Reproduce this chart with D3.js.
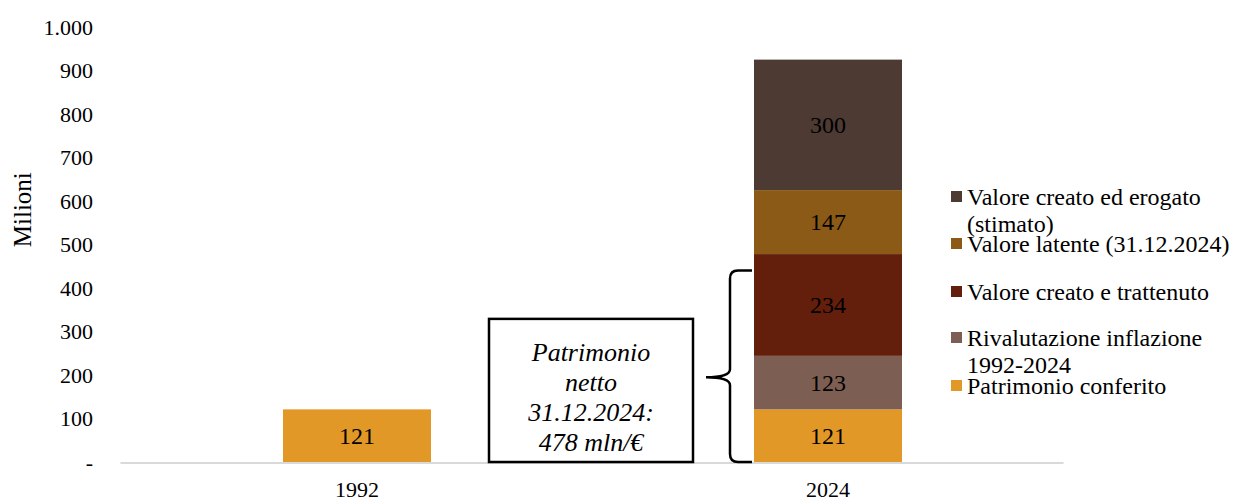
<!DOCTYPE html>
<html>
<head>
<meta charset="utf-8">
<script src="https://cdn.jsdelivr.net/npm/d3@7/dist/d3.min.js"></script>
<style>
  html, body { margin: 0; padding: 0; background: #fff; }
  svg { display: block; }
  text { font-family: "Liberation Serif", "Times New Roman", serif; fill: #000; }
</style>
</head>
<body>
<svg id="chart" width="1234" height="501"></svg>
<script>
// Categories (years) and stacked series, in millions of euro
const categories = ["1992", "2024"];
const seriesNames = [
  "Patrimonio conferito",
  "Rivalutazione inflazione 1992-2024",
  "Valore creato e trattenuto",
  "Valore latente (31.12.2024)",
  "Valore creato ed erogato (stimato)"
];
const patrimonioConferito    = [121, 121];
const rivalutazioneInflaz    = [0, 123];
const valoreCreatoTrattenuto = [0, 234];
const valoreLatente          = [0, 147];
const valoreErogato          = [0, 300];
const seriesColors = ["#E19826", "#7D5E52", "#641E0C", "#8A5A16", "#4C3A33"];

const yTicks = [0, 100, 200, 300, 400, 500, 600, 700, 800, 900, 1000];

// Legend entries, top to bottom, each split over its text lines
const legendItems = [
  { series: 4, lines: ["Valore creato ed erogato", "(stimato)"] },
  { series: 3, lines: ["Valore latente (31.12.2024)"] },
  { series: 2, lines: ["Valore creato e trattenuto"] },
  { series: 1, lines: ["Rivalutazione inflazione", "1992-2024"] },
  { series: 0, lines: ["Patrimonio conferito"] }
];

// Net worth = first three components of the 2024 bar
const netWorthParts = 3;
const braceTopValue = 440;   // brace annotation top, in axis units
const boxTopValue = 329;     // text box annotation top, in axis units

const svg = d3.select("#chart");
const margin = { left: 121.5, right: 1063.5, top: 27, bottom: 462 };

const x = d3.scaleBand().domain(categories).range([margin.left, margin.right]).padding(0);
const barW = x.bandwidth() * 148 / 471;
const y = d3.scaleLinear().domain([0, 1000]).range([margin.bottom, margin.top]);

const valuesBySeries = [patrimonioConferito, rivalutazioneInflaz, valoreCreatoTrattenuto, valoreLatente, valoreErogato];
const rows = categories.map((c, i) => {
  const r = { cat: c };
  seriesNames.forEach((s, k) => r[s] = valuesBySeries[k][i]);
  return r;
});
const stacked = d3.stack().keys(seriesNames)(rows);

// Baseline
svg.append("line")
  .attr("x1", margin.left - 1).attr("x2", margin.right)
  .attr("y1", y(0) + 1).attr("y2", y(0) + 1)
  .attr("stroke", "#d9d9d9").attr("stroke-width", 2);

// Y axis labels
const itLocale = d3.formatLocale({ decimal: ",", thousands: ".", grouping: [3], currency: ["", "€"] });
const fmt = v => v === 0 ? "-" : itLocale.format(",")(v);
const yAxis = d3.axisLeft(y).tickValues(yTicks).tickFormat(fmt).tickSize(0).tickPadding(0);
const yg = svg.append("g").attr("transform", "translate(93,0)").call(yAxis);
yg.select(".domain").remove();
yg.selectAll("text").attr("font-size", 22).attr("dy", "0.34em").attr("fill", "#000");

svg.append("text")
  .attr("transform", `translate(31,${y(580)}) rotate(-90)`)
  .attr("text-anchor", "middle").attr("font-size", 25)
  .text("Milioni");

// X axis labels
const xAxis = d3.axisBottom(x).tickSize(0).tickPadding(0);
const xg = svg.append("g").attr("transform", `translate(0,${y(0) + 28})`).call(xAxis);
xg.select(".domain").remove();
xg.selectAll("text").attr("font-size", 22).attr("dy", "0.34em").attr("fill", "#000");

// Stacked bars
stacked.forEach((layer, k) => {
  const g = svg.append("g");
  layer.forEach(d => {
    const v = d[1] - d[0];
    if (v <= 0) return;
    const cx = x(d.data.cat) + x.bandwidth() / 2;
    g.append("rect")
      .attr("x", cx - barW / 2).attr("width", barW)
      .attr("y", y(d[1])).attr("height", y(d[0]) - y(d[1]))
      .attr("fill", seriesColors[k]);
    g.append("text")
      .attr("x", cx).attr("y", (y(d[0]) + y(d[1])) / 2)
      .attr("dy", "0.34em").attr("text-anchor", "middle").attr("font-size", 24)
      .text(v);
  });
});

// Legend
const legend = svg.append("g");
const legendTops = [197, 244, 292, 338, 386];
legendItems.forEach((it, i) => {
  const cy = legendTops[i];
  legend.append("rect")
    .attr("x", 951).attr("y", cy - 6).attr("width", 11).attr("height", 11)
    .attr("fill", seriesColors[it.series]);
  it.lines.forEach((ln, j) => {
    legend.append("text")
      .attr("x", 967).attr("y", cy + j * 27).attr("dy", "0.34em")
      .attr("font-size", 24).text(ln);
  });
});

// Net worth annotation: text box and curly brace
const netWorth = d3.sum(valuesBySeries.slice(0, netWorthParts), a => a[1]);
const box = { x0: 489, x1: 693 };
svg.append("rect")
  .attr("x", box.x0).attr("y", y(boxTopValue))
  .attr("width", box.x1 - box.x0).attr("height", y(0) - y(boxTopValue))
  .attr("fill", "#fff").attr("stroke", "#000").attr("stroke-width", 2.5);
const boxLines = ["Patrimonio", "netto", "31.12.2024:", `${netWorth} mln/€`];
const boxCx = (box.x0 + box.x1) / 2;
boxLines.forEach((ln, j) => {
  svg.append("text")
    .attr("x", boxCx).attr("y", y(boxTopValue) + 33 + j * 30)
    .attr("dy", "0.34em").attr("text-anchor", "middle")
    .attr("font-size", 26).attr("font-style", "italic").text(ln);
});

// Curly brace spanning the net worth components
const bTop = y(braceTopValue), bBot = y(0);
const bMid = (bTop + bBot) / 2 + 11;
const bx = 730, bTip = 706, bEnd = 752, r = 8;
const brace = d3.path();
brace.moveTo(bEnd, bTop);
brace.lineTo(bx + r, bTop);
brace.quadraticCurveTo(bx, bTop, bx, bTop + r);
brace.lineTo(bx, bMid - r);
brace.quadraticCurveTo(bx, bMid, bTip, bMid);
brace.quadraticCurveTo(bx, bMid, bx, bMid + r);
brace.lineTo(bx, bBot - r);
brace.quadraticCurveTo(bx, bBot, bx + r, bBot);
brace.lineTo(bEnd, bBot);
svg.append("path").attr("d", brace.toString())
  .attr("fill", "none").attr("stroke", "#000").attr("stroke-width", 2.5);
</script>
</body>
</html>
